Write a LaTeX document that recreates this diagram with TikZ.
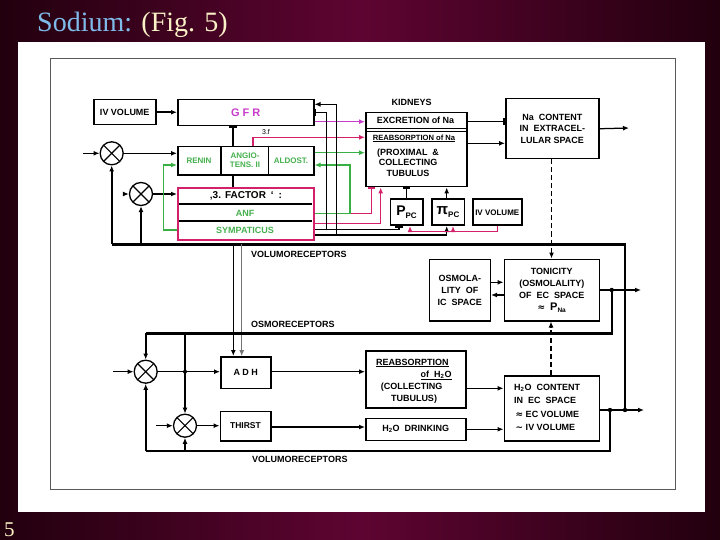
\documentclass[tikz,border=0pt]{standalone}
\usepackage{fontspec}
\setmainfont{Liberation Serif}
\setsansfont{Liberation Sans}
\newfontfamily\symf{DejaVu Sans}
\usetikzlibrary{arrows.meta}
\definecolor{bgdark}{HTML}{22000E}
\definecolor{bgmid}{HTML}{5E0432}
\definecolor{titleblue}{HTML}{7FBBE9}
\definecolor{titlecream}{HTML}{FAF1C6}
\definecolor{gmag}{HTML}{C83CCB}
\definecolor{cmag}{HTML}{D2206A}
\definecolor{fgreen}{HTML}{38B044}
\definecolor{tgreen}{HTML}{45B04E}
\newcommand\dgf{\sffamily\bfseries\fontsize{9}{10.5}\selectfont}
\begin{document}
\begin{tikzpicture}[x=1pt,y=-1pt,
  box/.style={draw, line width=1.5pt, inner sep=0pt, anchor=north west, align=center, font=\dgf},
  ln/.style={line width=1.25pt},
  thk/.style={line width=2.4pt},
  arr/.style={-{Latex[length=6pt,width=5pt]}},
  tbar/.style={-{Bar[width=7.5pt,line width=1.6pt]}},
  lbl/.style={font=\dgf, inner sep=0pt},
  xsum/.style={circle, draw, line width=1.3pt, minimum size=23pt, inner sep=0pt, fill=white,
    path picture={\draw[line width=1.1pt] (path picture bounding box.north west) -- (path picture bounding box.south east)
      (path picture bounding box.north east) -- (path picture bounding box.south west);}}
]
\useasboundingbox (0,0) rectangle (720,540);
\shade[left color=bgdark, right color=bgdark, middle color=bgmid] (0,0) rectangle (720,540);
\fill[white] (18,42) rectangle (705,512);
\draw[black!65, line width=0.8pt] (50,58) rectangle (675,489);

% title and page number
\node[anchor=base west, inner sep=0pt, font=\fontsize{28}{30}\selectfont] (title) at (37,32)
  {\textcolor{titleblue}{Sodium:} \textcolor{titlecream}{(Fig. 5)}};
\node[anchor=base west, inner sep=0pt, font=\fontsize{21}{22}\selectfont, text=titlecream] (pnum) at (4,536) {5};

% ---------- boxes, upper part ----------
\node[box, minimum width=62pt, minimum height=25pt] (ivvol) at (93,99) {IV VOLUME};
\node[box, minimum width=136pt, minimum height=26pt, font=\sffamily\bfseries\fontsize{11}{12}\selectfont, text=gmag] (gfr) at (177,99) {G F R};

\node[lbl, anchor=base] (kidlbl) at (411.7,105.5) {KIDNEYS};
\node[box, minimum width=101pt, minimum height=74pt] (kid) at (365,112) {};
\node[lbl] (kexc) at (415.5,120.3) {EXCRETION of Na};
\draw[line width=1pt] (kid.west |- 0,128.5) -- (kid.east |- 0,128.5);
\draw[line width=1pt] (kid.west |- 0,131.6) -- (kid.east |- 0,131.6);
\node[lbl, font=\sffamily\bfseries\fontsize{7.6}{9}\selectfont] (kreab) at (414,138.3) {\underline{REABSORPTION of Na}};
\node[lbl, align=center, font=\sffamily\bfseries\fontsize{9}{10.5}\selectfont] (kprox) at (408,162.3) {(PROXIMAL\ \ \&\\COLLECTING\\TUBULUS};

\node[box, minimum width=93pt, minimum height=60pt, font=\sffamily\bfseries\fontsize{9}{11.7}\selectfont] (na) at (505,98) {Na\ \ CONTENT\\IN\ \ EXTRACEL-\\LULAR SPACE};

\node[box, minimum width=136pt, minimum height=28.5pt] (ren) at (177,146) {};
\draw[line width=1.5pt] (ren.north -| 221,0) -- (ren.south -| 221,0);
\draw[line width=1.5pt] (ren.north -| 268.5,0) -- (ren.south -| 268.5,0);
\node[lbl, font=\sffamily\bfseries\fontsize{8}{9.5}\selectfont, text=tgreen] (renin) at (199,160.3) {RENIN};
\node[lbl, align=center, font=\sffamily\bfseries\fontsize{8}{9.5}\selectfont, text=tgreen] (angio) at (245,160.3) {ANGIO-\\TENS. II};
\node[lbl, font=\sffamily\bfseries\fontsize{8}{9.5}\selectfont, text=tgreen] (aldost) at (291,160.3) {ALDOST.};

\node[box, draw=cmag, line width=1.8pt, minimum width=136pt, minimum height=51.5pt] (fac) at (177,187.5) {};
\node[lbl, font=\sffamily\bfseries\fontsize{10}{11}\selectfont] (factxt) at (246,195.5) {‚3.\hspace{4pt}FACTOR\hspace{5pt}‘\hspace{5pt}:};
\draw[line width=2.4pt] (178.5,204.3) -- (311.5,204.3);
\draw[line width=1.2pt] (178.5,221) -- (311.5,221);
\node[lbl, text=tgreen] (anf) at (245,213.3) {ANF};
\node[lbl, text=tgreen] (symp) at (245,230) {SYMPATICUS};

\node[box, minimum width=32.5pt, minimum height=26pt] (ppc) at (389.5,198.5)
  {{\fontsize{14}{14}\selectfont P}\raisebox{-3pt}{\fontsize{8}{8}\selectfont PC}};
\node[box, minimum width=32.5pt, minimum height=26pt] (pipc) at (431,198.5)
  {{\fontsize{15}{15}\selectfont π}\raisebox{-3pt}{\fontsize{8}{8}\selectfont PC}};
\node[box, minimum width=49pt, minimum height=26pt, font=\sffamily\bfseries\fontsize{8}{9}\selectfont] (ivs) at (472,198.5) {IV VOLUME};

% ---------- middle ----------
\node[lbl, anchor=base west] (vrlbl) at (251,257.5) {VOLUMORECEPTORS};
\node[lbl, anchor=base west] (orlbl) at (251,327.5) {OSMORECEPTORS};
\node[box, minimum width=61pt, minimum height=61.5pt, font=\sffamily\bfseries\fontsize{9}{12}\selectfont] (osmo) at (428.5,258.5) {OSMOLA-\\LITY\ \ OF\\IC\ \ SPACE};
\node[box, minimum width=95pt, minimum height=61.5pt, font=\sffamily\bfseries\fontsize{9}{12.2}\selectfont] (ton) at (503.5,258.5)
  {TONICITY\\(OSMOLALITY)\\OF\ \ EC\ \ SPACE\\{\symf ≈}\ \ {\fontsize{11}{11}\selectfont P}\raisebox{-1.5pt}{\fontsize{6.5}{7}\selectfont Na}};

% ---------- lower part ----------
\node[box, minimum width=50pt, minimum height=31.5pt] (adh) at (220,356) {A D H};
\node[box, minimum width=50.5pt, minimum height=29.5pt, font=\sffamily\bfseries\fontsize{8.5}{10}\selectfont] (thirst) at (219.5,410.5) {THIRST};
\node[box, minimum width=100pt, minimum height=57pt] (reabw) at (365,350) {};
\node[lbl, anchor=base west] (rw1) at (376,365) {\underline{REABSORPTION}};
\node[lbl, anchor=base east] (rw2) at (451.7,377) {\underline{of\ \ H\textsubscript{2}O}};
\node[lbl, anchor=base] (rw3) at (411.7,389) {(COLLECTING};
\node[lbl, anchor=base] (rw4) at (414,401) {TUBULUS)};
\node[box, minimum width=100pt, minimum height=22pt] (drink) at (365,417.5) {H\textsubscript{2}O\ \ DRINKING};
\node[box, minimum width=95pt, minimum height=65pt] (h2o) at (503.5,375) {};
\node[lbl, align=left, anchor=west, font=\sffamily\bfseries\fontsize{9}{13.3}\selectfont] (h2otxt) at (514,407.5)
  {H\textsubscript{2}O\ \ CONTENT\\IN\ \ EC\ \ SPACE\\\,{\symf ≈} EC VOLUME\\\,{\symf ∼}\ IV VOLUME};
\node[lbl, anchor=base west] (vrlbl2) at (252,462.5) {VOLUMORECEPTORS};

% ---------- summing junctions ----------
\node[xsum] (c1) at (111.7,153.3) {};
\node[xsum] (c2) at (141,194) {};
\node[xsum] (c3) at (145.7,371.7) {};
\node[xsum] (c4) at (185,425.7) {};

% ---------- connectors, upper ----------
\draw[thk, arr] (ivvol.east) -- (gfr.west |- ivvol.east);
\coordinate (in1) at (83,153.3);
\coordinate (in2) at (123,194);
\coordinate (in3) at (113,371.7);
\coordinate (in4) at (156,425.7);
\draw[ln, arr] (in1) -- (c1.west);
\draw[ln, arr] (in2) -- (c2.west);
\draw[ln, arr] (in3) -- (c3.west);
\draw[ln, arr] (in4) -- (c4.west);
\draw[ln, arr] (c1.east) -- (ren.west |- c1.east);
\draw[ln, arr] (c2.east) -- (fac.west |- c2.east);

\draw[ln, tbar] (ren.north -| 233,0) -- (gfr.south -| 233,0);
\draw[ln] (ren.south -| 233,0) -- (fac.north -| 233,0);
\node[inner sep=0pt, font=\sffamily\fontsize{7}{8}\selectfont] (threef) at (266,132.3) {3.f};
\draw[ln, cmag, arr] (ren.north -| 253,0) -- (253,137.3) -- (kid.west |- 0,137.3);
\draw[ln, gmag, arr] (gfr.east |- 0,121.7) -- (kid.west |- 0,121.7);
\draw[ln, fgreen, arr] (ren.east |- 0,152.7) -- (kid.west |- 0,152.7);

\draw[ln, cmag, tbar] (fac.east |- 0,213.3) -- (371.7,213.3) -- (kid.south -| 371.7,0);
\draw[ln, fgreen, arr] (fac.east |- 0,213.3) -- (350,213.3) -- (350,165) -- (ren.east |- 0,165);
\draw[ln, fgreen, arr] (fac.west |- 0,230) -- (163.3,230) -- (163.3,165) -- (ren.west |- 0,165);
\draw[ln, cmag, arr] (fac.east |- 0,223.3) -- (380.7,223.3) -- (kid.south -| 380.7,0);

\draw[ln, arr] (336.7,235) -- (336.7,104.3) -- (gfr.east |- 0,104.3);
\draw[ln, tbar] (326.7,229.3) -- (326.7,112.3) -- (gfr.east |- 0,112.3);
\draw[ln, tbar] (fac.east |- 0,229.3) -- (399,229.3) -- (ppc.south -| 399,0);
\draw[ln, arr] (fac.east |- 0,235) -- (446.7,235) -- (pipc.south -| 446.7,0);

\draw[ln, cmag] (ivs.south) -- (ivs.south |- 0,231.5) -- (410,231.5);
\draw[ln, cmag, arr] (410,231.5) -- (ppc.south -| 410,0);
\draw[ln, cmag, arr] (453,231.5) -- (pipc.south -| 453,0);

\draw[ln, tbar] (ppc.north -| 406.7,0) -- (kid.south -| 406.7,0);
\draw[ln, arr] (pipc.north -| 446.7,0) -- (kid.south -| 446.7,0);
\draw[ln, tbar] (kid.east |- 0,121.7) -- (na.west |- 0,121.7);
\draw[ln, arr] (kid.east |- 0,143.3) -- (na.west |- 0,143.3);
\coordinate (naout) at (629,128);
\draw[ln, arr] (na.east) -- (naout);

% dashed links
\draw[ln, dash pattern=on 5pt off 3pt, arr] (na.south -| 551.5,0) -- (ton.north -| 551.5,0);
\draw[ln, dash pattern=on 5pt off 3pt, arr] (h2o.north -| 551,0) -- (ton.south -| 551,0);
\draw[ln, arr] (osmo.east |- 0,282.3) -- (ton.west |- 0,282.3);
\draw[ln, arr] (ton.west |- 0,295) -- (osmo.east |- 0,295);

% volumoreceptor loop
\coordinate (v1) at (111.7,244.3);
\coordinate (v2) at (141,244.3);
\coordinate (vR) at (625,244.3);
\coordinate (vB) at (625,410);
\draw[thk] (v1) -- (vR) -- (vB);
\draw[thk, arr] (v1) -- (c1.south);
\draw[thk, arr] (v2) -- (c2.south);
\draw[ln, arr] (233.3,244.3) -- (adh.north -| 233.3,0);
\draw[line width=0.8pt, black!55, arr] (241.7,244.3) -- (adh.north -| 241.7,0);

% osmoreceptor loop
\coordinate (tJ) at (611.7,290);
\coordinate (oR) at (611.7,333.3);
\coordinate (o1) at (145.7,333.3);
\coordinate (o2) at (185,333.3);
\coordinate (tout) at (641,290);
\draw[ln, arr] (ton.east |- tJ) -- (tout);
\draw[thk] (tJ) -- (oR) -- (o1);
\draw[thk, arr] (o1) -- (c3.north);
\draw[thk, arr] (o2) -- (c4.north);
\fill (tJ) circle (2.2pt);

% bottom loop
\coordinate (hJ) at (610,410);
\coordinate (bR) at (610,450.7);
\coordinate (b1) at (145.7,450.7);
\coordinate (b2) at (185,450.7);
\coordinate (hout) at (644,410);
\draw[ln, arr] (h2o.east |- hJ) -- (hout);
\draw[thk] (hJ) -- (bR) -- (b1);
\draw[thk, arr] (b1) -- (c3.south);
\draw[thk, arr] (b2) -- (c4.south);
\fill (hJ) circle (2.2pt);
\fill (vB) circle (2.2pt);

% lower connectors
\coordinate (xdot) at (185,371.7);
\draw[ln, arr] (c3.east) -- (adh.west |- c3.east);
\fill (xdot) circle (2pt);
\draw[ln, arr] (c4.east) -- (thirst.west |- c4.east);
\draw[ln, arr] (adh.east |- c3.east) -- (reabw.west |- c3.east);
\draw[ln, arr] (thirst.east |- 0,427) -- (drink.west |- 0,427);
\draw[ln, arr] (reabw.east |- 0,388.3) -- (h2o.west |- 0,388.3);
\draw[ln, arr] (drink.east) -- (h2o.west |- drink.east);
\end{tikzpicture}
\end{document}
